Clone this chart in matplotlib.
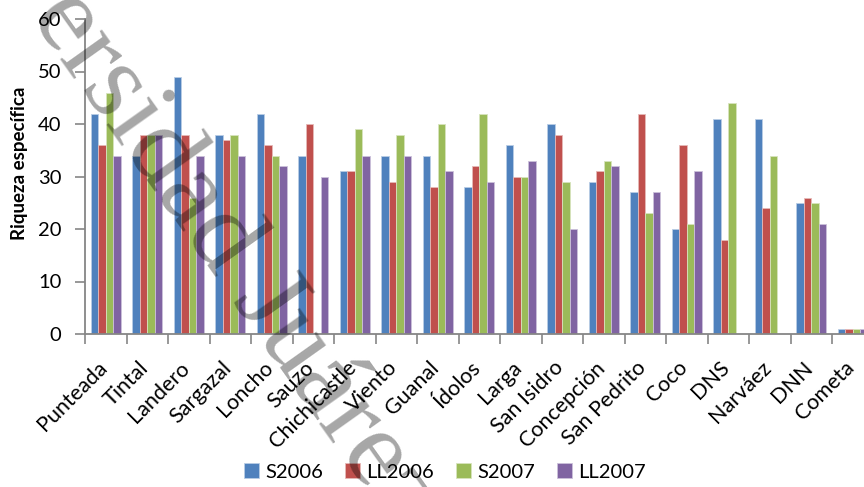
import matplotlib
matplotlib.use("Agg")
import matplotlib.pyplot as plt
import numpy as np

plt.rcParams['font.family'] = ['Lato', 'DejaVu Sans']

sites = ["Punteada", "Tintal", "Landero", "Sargazal", "Loncho", "Sauzo",
         "Chichicastle", "Viento", "Guanal", "Ídolos", "Larga", "San Isidro",
         "Concepción", "San Pedrito", "Coco", "DNS", "Narváez", "DNN", "Cometa"]

series_names = ["S2006", "LL2006", "S2007", "LL2007"]
s2006  = [42, 34, 49, 38, 42, 34, 31, 34, 34, 28, 36, 40, 29, 27, 20, 41, 41, 25, 1]
ll2006 = [36, 38, 38, 37, 36, 40, 31, 29, 28, 32, 30, 38, 31, 42, 36, 18, 24, 26, 1]
s2007  = [46, 38, 26, 38, 34, 0, 39, 38, 40, 42, 30, 29, 33, 23, 21, 44, 34, 25, 1]
ll2007 = [34, 38, 34, 34, 32, 30, 34, 34, 31, 29, 33, 20, 32, 27, 31, 0, 0, 21, 1]
yticks = [0, 10, 20, 30, 40, 50, 60]

colors = ["#4F81BD", "#C0504D", "#9BBB59", "#8064A2"]
edges = ["#B9CDE5", "#E6B9B8", "#D7E4BD", "#CCC1DA"]

W, H = 864, 487
fig = plt.figure(figsize=(W / 100, H / 100), dpi=100)
ax_left, ax_right = 85 / W, 873.5 / W
ax_bottom, ax_top = 1 - 334 / H, 1 - 19 / H
ax = fig.add_axes([ax_left, ax_bottom, ax_right - ax_left, ax_top - ax_bottom])

x = np.arange(len(sites))
bw = 1 / (4 + 1.5)
for j, (vals, name) in enumerate(zip([s2006, ll2006, s2007, ll2007], series_names)):
    ax.bar(x + (j - 1.5) * bw, vals, width=bw, color=colors[j], edgecolor=edges[j],
           linewidth=0.6, label=name, zorder=2)

ax.set_xlim(-0.5, len(sites) - 0.5)
ax.set_ylim(0, 60)
ax.set_yticks(yticks)
ax.set_yticklabels([str(v) for v in yticks], fontsize=14.5)

# category names, slanted, hung just under each group
ax.set_xticks(x)
ax.set_xticklabels([])
ax.tick_params(axis='x', which='major', length=0)
for xi, name in zip(x, sites):
    ax.annotate(name, xy=(xi, 0), xycoords=('data', 'axes fraction'),
                xytext=(-6.5, -17), textcoords='offset points',
                rotation=45, ha='right', va='top', rotation_mode='anchor',
                fontsize=15.5, annotation_clip=False)

ax.set_xticks(np.arange(len(sites) + 1) - 0.5, minor=True)
ax.tick_params(axis='x', which='minor', length=7, width=1.2, color='#868686', direction='out')
ax.tick_params(axis='y', length=7, width=1.2, color='#868686', direction='out', pad=10)

for s in ['top', 'right']:
    ax.spines[s].set_visible(False)
for s in ['left', 'bottom']:
    ax.spines[s].set_color('#868686')
    ax.spines[s].set_linewidth(1.3)
    ax.spines[s].set_zorder(3)

fig.text(20 / W, 1 - 163 / H, "Riqueza específica", rotation=90, ha='center', va='center',
         fontsize=13.5, fontweight='bold')

handles, labels = ax.get_legend_handles_labels()
fig.legend(handles, labels, loc='center', bbox_to_anchor=(445 / W, 1 - 472 / H), ncol=4,
           frameon=False, fontsize=14.5, handlelength=0.75, handleheight=0.75,
           handletextpad=0.3, columnspacing=1.1, borderpad=0)

# diagonal watermark
fig.text(30 / W, 1 - 16 / H, "ersidad Juárez", rotation=-54.6, ha='left', va='baseline',
         rotation_mode='anchor', fontsize=80, family='Liberation Serif',
         color='black', alpha=0.35, zorder=10)

fig.savefig("out.png", dpi=100)
